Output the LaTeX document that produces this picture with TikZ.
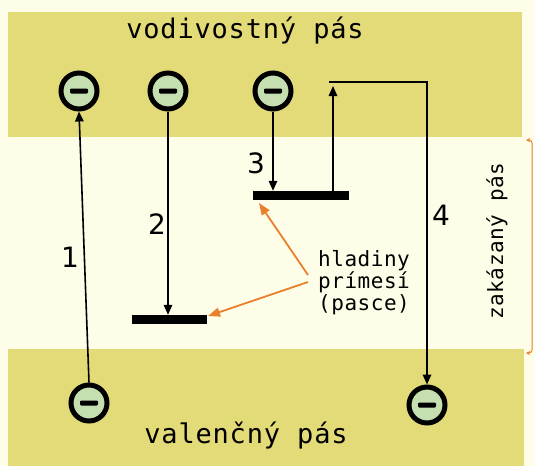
\documentclass[tikz,border=0pt]{standalone}
\usepackage{fontspec}
\usetikzlibrary{arrows.meta}
\newfontfamily\titlef[LetterSpace=3]{DejaVu Sans Mono}
\newfontfamily\labf[LetterSpace=2.5]{DejaVu Sans Mono}
\newfontfamily\numf{DejaVu Sans}
\definecolor{cream}{HTML}{FEFDE7}
\definecolor{band}{HTML}{E3DA78}
\definecolor{egreen}{HTML}{C6DFB0}
\definecolor{orng}{HTML}{E8802C}
\tikzset{
  electron/.style={circle, draw=black, line width=5pt, fill=egreen, minimum size=36pt, inner sep=0pt,
    path picture={\fill[black, rounded corners=1.2pt] ([xshift=-9pt,yshift=-2.5pt]path picture bounding box.center) rectangle ++(18pt,5pt);}},
  level/.style={rectangle, fill=black, inner sep=0pt, minimum height=9pt},
  arr/.style={line width=1.6pt, -{Triangle[length=10pt,width=8.5pt]}},
  oarr/.style={line width=1.8pt, draw=orng, -{Triangle[length=12pt,width=9pt]}, orng},
  num/.style={font=\numf\fontsize{28}{32}\selectfont, inner sep=0pt},
  bandtxt/.style={font=\titlef\fontsize{27}{30}\selectfont, inner sep=0pt, anchor=base},
  lab/.style={font=\labf\fontsize{21}{22}\selectfont, inner sep=0pt, align=left}
}
\begin{document}
\begin{tikzpicture}[x=1pt,y=-1pt]
\useasboundingbox (0,0) rectangle (534,466);
\fill[cream] (0,0) rectangle (534,466);
\fill[band] (8,12) rectangle (522,137);
\fill[band] (8,349) rectangle (524,466);
% band titles
\node[bandtxt] (vod) at (245,38) {vodivostný pás};
\node[bandtxt] (val) at (246,443) {valenčný pás};
\node[lab, rotate=90] (zak) at (497,241) {zakázaný pás};
% electrons
\node[electron] (e1t) at (79,91) {};
\node[electron] (e2t) at (168,91) {};
\node[electron] (e3t) at (273,91) {};
\node[electron] (e1b) at (89,403) {};
\node[electron] (e4b) at (427,405) {};
% trap levels
\node[level, minimum width=75pt] (bar2) at (169.5,319.5) {};
\node[level, minimum width=96pt] (bar3) at (301,195.5) {};
% transitions
\draw[arr] (e1b.north) -- (e1t.south);
\draw[arr] (e2t.south) -- (e2t.south |- bar2.north);
\draw[arr] (e3t.south) -- (e3t.south |- bar3.north);
\coordinate (t4) at (333,86);
\coordinate (h4) at (329,82);
\draw[arr] (bar3.north -| t4) -- (t4);
\draw[arr] (h4) -| (e4b.north);
% numbers
\node[num] (n1) at (70,257) {1};
\node[num] (n2) at (157,224) {2};
\node[num] (n3) at (256,163) {3};
\node[num] (n4) at (441,215) {4};
% trap label
\node[lab, anchor=north west] (hl) at (318,250) {hladiny\\prímesí\\(pasce)};
\coordinate (o1) at (308,275);
\coordinate (o2) at (308,282);
\coordinate (o1t) at (259,203);
\coordinate (o2t) at (208,316);
\draw[oarr] (o1) -- (o1t);
\draw[oarr] (o2) -- (o2t);
% bracket for forbidden band
\coordinate (b1) at (526,140);
\coordinate (b2) at (526,353);
\draw[orng, line width=1pt, rounded corners=3pt, {Stealth[length=4pt,width=4pt]}-{Stealth[length=4pt,width=4pt]}] (b1) -- (532,140) -- (532,353) -- (b2);
\end{tikzpicture}
\end{document}
